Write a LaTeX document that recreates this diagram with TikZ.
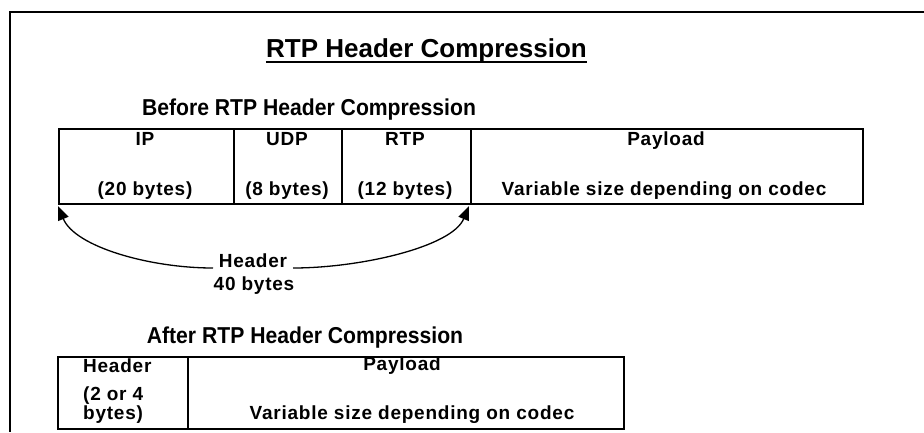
\documentclass[tikz,border=0pt]{standalone}
\usepackage{fontspec}
\setmainfont{Liberation Sans}
\newfontfamily\cellfont{Liberation Sans}[LetterSpace=4]
\newfontfamily\headfont{Liberation Sans}[FakeStretch=0.92]
\usetikzlibrary{arrows.meta}
\begin{document}
\begin{tikzpicture}[x=1pt,y=-1pt,
  frameline/.style={line width=1.8pt},
  cellbox/.style={draw,line width=1.8pt,inner sep=0pt,anchor=north west},
  celltext/.style={font=\cellfont\bfseries\fontsize{19}{22}\selectfont,anchor=base,inner sep=0pt},
  heading/.style={font=\headfont\bfseries\fontsize{23}{26}\selectfont,anchor=base,inner sep=0pt},
  brace/.style={line width=1.3pt,-{Triangle[length=14pt,width=11pt]}}]
\useasboundingbox (0,0) rectangle (924,432);
\fill[white] (0,0) rectangle (924,432);

% outer frame (top and left edges)
\coordinate (fTL) at (10,12);
\coordinate (fTR) at (924,12);
\coordinate (fBL) at (10,432);
\draw[frameline] (fTR) -- (fTL) -- (fBL);

% title
\node[font=\bfseries\fontsize{26}{30}\selectfont,anchor=base,inner sep=0pt] (title) at (426.5,57) {RTP Header Compression};
\draw[line width=2.6pt] ([yshift=-5pt]title.base west) -- ([yshift=-5pt]title.base east);

% packet before compression
\node[heading] (before) at (309,115) {Before RTP Header Compression};
\node[cellbox,minimum width=175,minimum height=75] (ip)  at (58,128) {};
\node[cellbox,minimum width=108,minimum height=75] (udp) at (233,128) {};
\node[cellbox,minimum width=129,minimum height=75] (rtp) at (341,128) {};
\node[cellbox,minimum width=392,minimum height=75] (pay) at (470,128) {};

\node[celltext] (ipA)  at (145,145) {IP};
\node[celltext] (udpA) at (287,145) {UDP};
\node[celltext] (rtpA) at (405,145) {RTP};
\node[celltext] (payA) at (666,145) {Payload};
\node[celltext] (ipB)  at (145,195) {(20 bytes)};
\node[celltext] (udpB) at (287,195) {(8 bytes)};
\node[celltext] (rtpB) at (405,195) {(12 bytes)};
\node[celltext] (payB) at (664,195) {Variable size depending on codec};

% header span
\node[celltext] (hdr) at (253,267) {Header};
\node[celltext] (hdrB) at (254,290) {40 bytes};
\coordinate (hl) at (213,268);
\coordinate (hr) at (293,268);
\coordinate (tipL) at (58,206);
\coordinate (tipR) at (469,206);
\draw[brace] (hl) .. controls (150,268) and (75,247) .. (tipL);
\draw[brace] (hr) .. controls (360,268) and (452,247) .. (tipR);

% packet after compression
\node[heading] (after) at (305,343) {After RTP Header Compression};
\node[cellbox,minimum width=130,minimum height=72] (hd2) at (57,356) {};
\node[cellbox,minimum width=436,minimum height=72] (pay2) at (187,356) {};
\node[celltext,anchor=base west] (hd2A) at (83,372) {Header};
\node[celltext,anchor=base west] (hd2B) at (83,400) {(2 or 4};
\node[celltext,anchor=base west] (hd2C) at (83,419) {bytes)};
\node[celltext] (pay2A) at (402,370) {Payload};
\node[celltext] (pay2B) at (412,419) {Variable size depending on codec};
\end{tikzpicture}
\end{document}
